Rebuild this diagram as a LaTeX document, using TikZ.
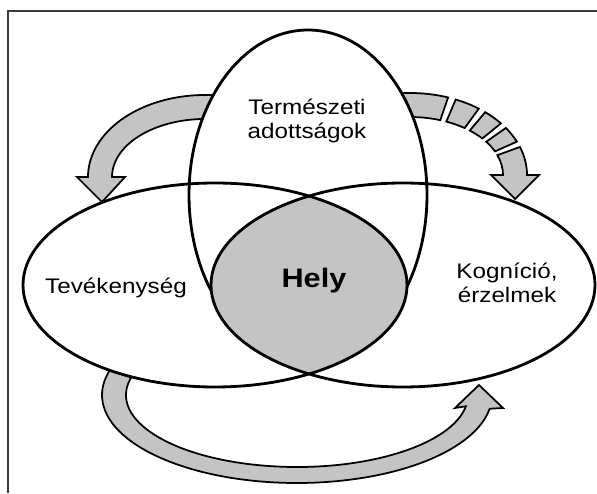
\documentclass[tikz,border=0pt]{standalone}
\usepackage{fontspec}
\setmainfont{Liberation Sans}[FakeStretch=1.15]
\usepackage{tikz}
\usepackage{xcolor}
\definecolor{fillgrey}{RGB}{196,196,196}
\definecolor{framegrey}{RGB}{60,60,60}
\tikzstyle{blockarrow} = [fill=fillgrey, draw=black, line width=1pt]
\tikzstyle{ring} = [draw=black, line width=1.6pt]
\tikzstyle{vtext} = [font=\fontsize{12}{13.4}\selectfont, align=center, inner sep=0pt]
\newcommand{\dashpiece}[2]{([shift={(#1:117 and 82)}]410,318) arc[start angle=#1, end angle=#2, x radius=117, y radius=82] -- ([shift={(#2:93 and 58)}]410,318) arc[start angle=#2, end angle=#1, x radius=93, y radius=58] -- cycle}

\begin{document}
\begin{tikzpicture}[x=0.02cm, y=0.02cm]
			\tikzset{every node/.style={vtext}}
\useasboundingbox (0,0) rectangle (597,493);
\draw[framegrey, line width=0.6pt] (8,0) -- (8,482) -- (597,482);

\draw[blockarrow] ([shift={(85:117 and 82)}]205,316) arc[start angle=85, end angle=180, x radius=117, y radius=82] -- (77,316) -- (102,291) -- (125,316) -- (112,316) arc[start angle=180, end angle=85, x radius=93, y radius=58] -- cycle;

\foreach \a/\b in {100/71,67/54,50/39,35/24}
{
	\draw[blockarrow] \dashpiece{\a}{\b};
}
\draw[blockarrow] ([shift={(20:117 and 82)}]410,318) arc[start angle=20, end angle=0, x radius=117, y radius=82] -- (539,318) -- (515,294) -- (491,318) -- (503,318) arc[start angle=0, end angle=20, x radius=93, y radius=58] -- cycle;

\draw[blockarrow] ([shift={(140:195 and 88)}]297,98) arc[start angle=140, end angle=351, x radius=195, y radius=88] -- (503,85) -- (479,108) -- (455,85) -- ([shift={(351:171 and 72)}]297,98) arc[start angle=351, end angle=140, x radius=171, y radius=72] -- cycle;

\foreach \cx/\cy/\rx/\ry in {308/298/119/165,215/208/192/102,403/208/192/102}
{
	\fill[white] (\cx,\cy) ellipse [x radius=\rx, y radius=\ry];
}
\draw[ring] (308,298) ellipse [x radius=119, y radius=165];
\begin{scope}
\clip (215,208) ellipse [x radius=192, y radius=102];
\fill[fillgrey] (403,208) ellipse [x radius=192, y radius=102];
\end{scope}
\foreach \cx in {215,403}
{
	\draw[ring] (\cx,208) ellipse [x radius=192, y radius=102];
}

\node (natural) at (307,372) {Természeti\\adottságok};
\node[anchor=base] (activity) at (116,199) {Tevékenység};
\node (cognition) at (507,210) {Kogníció,\\érzelmek};
\node[anchor=base, font=\bfseries\fontsize{15.2}{17}\selectfont] (place) at (314,205) {Hely};

		\end{tikzpicture}
\end{document}
